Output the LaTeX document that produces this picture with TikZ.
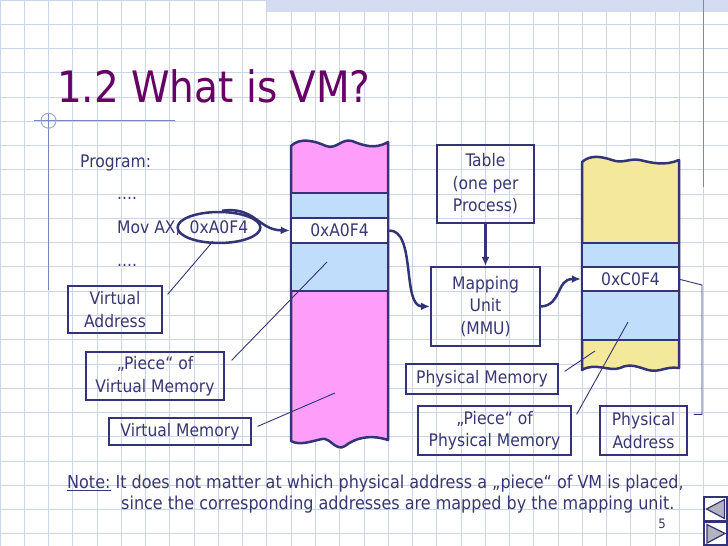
\documentclass[tikz,border=0pt]{standalone}
\usepackage{fontspec}
\setmainfont{DejaVu Sans Condensed}
\usetikzlibrary{arrows.meta,shapes.geometric}
\definecolor{vmline}{RGB}{51,51,119}
\definecolor{vmtext}{RGB}{55,55,115}
\definecolor{vmtitle}{RGB}{102,0,102}
\definecolor{vmpink}{RGB}{255,158,250}
\definecolor{vmblue}{RGB}{192,222,252}
\definecolor{vmyellow}{RGB}{244,232,155}
\definecolor{gridc}{RGB}{202,213,233}
\definecolor{decoc}{RGB}{120,135,190}
\definecolor{bandc}{RGB}{212,220,242}
\definecolor{navgray}{RGB}{180,180,192}

\begin{document}
\begin{tikzpicture}[x=1pt,y=-1pt,
  txt/.style={text=vmtext,font=\fontsize{17.3}{22.5}\selectfont},
  notetxt/.style={text=vmtext,font=\fontsize{17.8}{22.5}\selectfont,anchor=base west,inner sep=0pt},
  callout/.style={txt,draw=vmline,line width=1.2pt,align=center,inner sep=0pt},
  unitbox/.style={txt,draw=vmline,line width=2.2pt,align=center,inner sep=0pt},
  cell/.style={txt,draw=vmline,fill=white,line width=2.5pt,inner sep=0pt,minimum width=97pt,minimum height=25pt},
  memline/.style={draw=vmline,line width=2.5pt,line join=round},
  flow/.style={draw=vmline,line width=2.5pt,-{Latex[length=9pt,width=8pt]}},
  pointer/.style={draw=vmline,line width=0.9pt},
  gridline/.style={draw=gridc,line width=1pt}]
  \useasboundingbox (0,0) rectangle (728,546);
  \fill[white] (0,0) rectangle (728,546);
  %rutenett
  	\foreach \k in {0,...,30} \draw[gridline] (\k*24.267,0) -- (\k*24.267,546);
  	\foreach \k in {0,...,22} \draw[gridline] (0,\k*24.267) -- (728,\k*24.267);
  %pynt
  	\fill[bandc] (267,0) rectangle (728,12);
  	\draw[decoc,line width=1.2pt] (703.7,0) -- (703.7,187);
  	\draw[decoc,line width=1.2pt] (34,120.7) -- (175,120.7);
  	\draw[decoc,line width=1.2pt] (48.5,113) -- (48.5,290);
  	\draw[decoc!70,line width=1pt] (48.5,120.7) circle (7.5);

  %overskrift
  	\node[anchor=base west,text=vmtitle,font=\fontsize{43.3}{50}\selectfont,inner sep=0pt] (title) at (57,102) {1.2 What is VM?};

  %program
  	\node[txt,anchor=base west,inner sep=0pt] (prog) at (80,167) {Program:};
  	\node[txt,anchor=base west,inner sep=0pt] (dots1) at (117,199) {....};
  	\node[txt,anchor=base west,inner sep=0pt] (mov) at (117,233.5) {Mov AX,};
  	\node[txt,draw=vmline,line width=2.5pt,ellipse,inner sep=0pt,minimum width=72pt,minimum height=31pt] (vaddr) at (219,227.5) {0xA0F4};
  	\node[txt,anchor=base west,inner sep=0pt] (dots2) at (117,266.5) {....};

  %virtuelt minne
  	\path[fill=vmpink,memline] (291,146) .. controls (300,137) and (315,141) .. (326,146) .. controls (336,150) and (342,138) .. (352,141) .. controls (362,145) and (375,150) .. (388,142)
  		-- (388,440) .. controls (370,434) and (355,438) .. (345,446) .. controls (336,452) and (330,437) .. (322,439) .. controls (312,441) and (300,446) .. (291,441) -- cycle;
  	\fill[vmblue] (291,193) rectangle (388,218);
  	\fill[vmblue] (291,243) rectangle (388,291);
  	\draw[memline] (291,193) -- (388,193);
  	\draw[memline] (291,291) -- (388,291);
  	\draw[memline] (291,190) -- (291,294);
  	\draw[memline] (388,190) -- (388,294);
  	\node[cell] (vcell) at (339.5,230.5) {0xA0F4};

  %fysisk minne
  	\path[fill=vmyellow,memline] (582,162) .. controls (590,155) and (600,156) .. (612,160) .. controls (622,164) and (630,158) .. (640,160) .. controls (652,163) and (665,166) .. (679,160)
  		-- (679,368) .. controls (665,366) and (660,373) .. (648,370) .. controls (638,367) and (630,363) .. (620,368) .. controls (610,372) and (595,362) .. (582,370) -- cycle;
  	\fill[vmblue] (582,243) rectangle (679,267);
  	\fill[vmblue] (582,291) rectangle (679,340);
  	\draw[memline] (582,243) -- (679,243);
  	\draw[memline] (582,340) -- (679,340);
  	\draw[memline] (582,240) -- (582,343);
  	\draw[memline] (679,240) -- (679,343);
  	\node[cell,minimum height=24pt] (pcell) at (630.5,279) {0xC0F4};

  %tabell og MMU
  	\node[unitbox,minimum width=97pt,minimum height=78pt] (table) at (485.5,184) {Table\\(one per\\Process)};
  	\node[unitbox,minimum width=109pt,minimum height=79pt] (mmu) at (485.5,306.5) {Mapping\\Unit\\(MMU)};

  %piler
  	\draw[flow] (vaddr.80) .. controls (255,206) and (258,230) .. (vcell.west);
  	\draw[flow] (vcell.east) .. controls (416,230) and (402,306) .. (mmu.west);
  	\draw[flow] (table.south) -- (mmu.north);
  	\draw[flow] (mmu.east) .. controls (562,305) and (556,279) .. (pcell.west);

  %forklaringer
  	\node[callout,minimum width=94pt,minimum height=47pt] (vaddrbox) at (115,309.5) {Virtual\\Address};
  	\node[callout,minimum width=138pt,minimum height=48pt] (vpiecebox) at (155,376) {„Piece“ of\\Virtual Memory};
  	\node[callout,minimum width=142pt,minimum height=27pt] (vmembox) at (180,431.5) {Virtual Memory};
  	\node[callout,minimum width=152pt,minimum height=30pt] (pmembox) at (482,379) {Physical Memory};
  	\node[callout,minimum width=153pt,minimum height=49pt] (ppiecebox) at (494.5,430.5) {„Piece“ of\\Physical Memory};
  	\node[callout,minimum width=87pt,minimum height=49pt] (paddrbox) at (643.5,430.5) {Physical\\Address};

  	\coordinate (vpiecept) at (327,262);
  	\coordinate (vmempt) at (335,393);
  	\coordinate (pmempt) at (595,351);
  	\coordinate (ppiecept) at (628,322);
  	\coordinate (paddrknee) at (702,285);
  	\draw[pointer] ([xshift=5pt,yshift=-9pt]vaddrbox.north east) -- ([xshift=-6pt,yshift=3pt]vaddr.south);
  	\draw[pointer] ([xshift=7pt,yshift=-9pt]vpiecebox.north east) -- (vpiecept);
  	\draw[pointer] ([xshift=6pt,yshift=-9pt]vmembox.north east) -- (vmempt);
  	\draw[pointer] ([xshift=6pt,yshift=-8pt]pmembox.north east) -- (pmempt);
  	\draw[pointer] ([xshift=5pt,yshift=-9pt]ppiecebox.north east) -- (ppiecept);
  	\draw[pointer] ([xshift=-2pt]pcell.east) -- (paddrknee) |- ([xshift=6pt,yshift=-9pt]paddrbox.north east);

  %merknad
  	\node[notetxt] (note1) at (67,488.5) {\underline{Note:} It does not matter at which physical address a „piece“ of VM is placed,};
  	\node[notetxt] (note2) at (121,509.5) {since the corresponding addresses are mapped by the mapping unit.};
  	\node[text=vmtext,font=\fontsize{13}{15}\selectfont,inner sep=0pt] (pagenr) at (662,524) {5};

  %navigasjon
  	\draw[vmline,line width=1.6pt,fill=white] (704,497) rectangle (727,521);
  	\filldraw[fill=navgray,draw=vmline,line width=1.2pt] (706.5,509) -- (724.5,499.5) -- (724.5,518.5) -- cycle;
  	\draw[vmline,line width=1.6pt,fill=white] (704,522) rectangle (727,545);
  	\filldraw[fill=navgray,draw=vmline,line width=1.2pt] (725,533.5) -- (707,524.5) -- (707,543) -- cycle;
\end{tikzpicture}
\end{document}
